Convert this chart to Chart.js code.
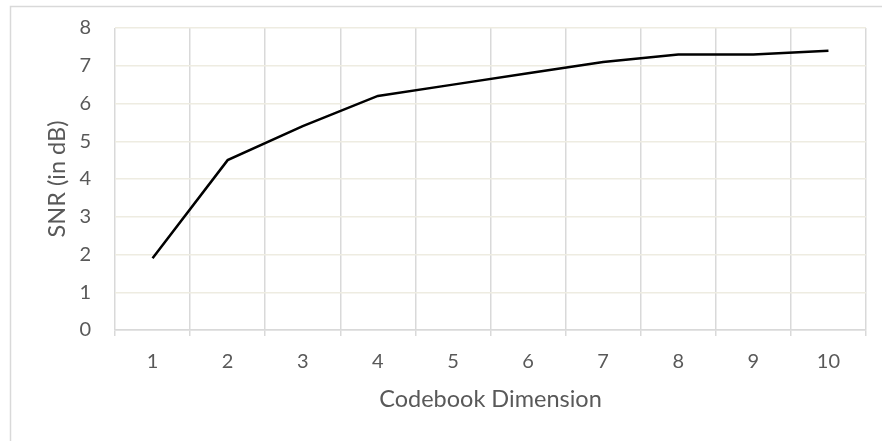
<!DOCTYPE html>
<html>
<head>
<meta charset="utf-8">
<script src="https://cdn.jsdelivr.net/npm/chart.js@4/dist/chart.umd.min.js"></script>
<style>
  html, body { margin: 0; padding: 0; background: #ffffff; }
  #wrap { width: 882px; height: 441px; position: relative; }
</style>
</head>
<body>
<div id="wrap"><canvas id="c" width="882" height="441"></canvas></div>
<script>
const categories = ['1', '2', '3', '4', '5', '6', '7', '8', '9', '10'];
const snrValues = [1.9, 4.5, 5.4, 6.2, 6.5, 6.8, 7.1, 7.3, 7.3, 7.4];
const yTicks = [0, 1, 2, 3, 4, 5, 6, 7, 8];
const xTitle = 'Codebook Dimension';
const yTitle = 'SNR (in dB)';

const FONT = 'Lato, "Open Sans", sans-serif';
const TEXT = '#595959';

const outerBorder = {
  id: 'outerBorder',
  beforeDraw(chart) {
    const ctx = chart.ctx;
    ctx.save();
    ctx.fillStyle = '#ffffff';
    ctx.fillRect(0, 0, chart.width, chart.height);
    ctx.strokeStyle = '#D9D9D9';
    ctx.lineWidth = 1.5;
    ctx.strokeRect(10.5, 6.5, chart.width + 20, chart.height + 20);
    ctx.restore();
  }
};

new Chart(document.getElementById('c'), {
  type: 'line',
  data: {
    labels: categories,
    datasets: [{
      data: snrValues,
      borderColor: '#000000',
      borderWidth: 2.5,
      pointRadius: 0,
      tension: 0,
      fill: false
    }]
  },
  options: {
    responsive: false,
    animation: false,
    devicePixelRatio: 1,
    layout: { padding: { left: 0, right: 16, top: 28, bottom: 27 } },
    plugins: { legend: { display: false }, tooltip: { enabled: false } },
    scales: {
      x: {
        offset: true,
        grid: { offset: true, color: '#D9D9D9', lineWidth: 1.5, drawTicks: true, tickLength: 6 },
        border: { display: true, color: '#D9D9D9', width: 1.5 },
        ticks: { color: TEXT, font: { family: FONT, size: 20 }, padding: 14, maxRotation: 0 },
        title: { display: true, text: xTitle, color: TEXT, font: { family: FONT, size: 23.5 }, padding: 0 },
        afterFit(scale) { scale.height = 84; scale.paddingLeft = 0; scale.paddingRight = 0; }
      },
      y: {
        min: 0, max: 8,
        afterBuildTicks(scale) { scale.ticks = yTicks.map(v => ({ value: v })); },
        grid: {
          color: (c) => c.tick && c.tick.value === 0 ? '#D9D9D9' : '#EEECE1',
          lineWidth: 1.5, drawTicks: false
        },
        border: { display: false },
        ticks: { color: TEXT, font: { family: FONT, size: 20 }, padding: 24 },
        title: { display: true, text: yTitle, color: TEXT, font: { family: FONT, size: 23.5 }, padding: { top: 43, bottom: 30 } },
        afterFit(scale) { scale.width = 115; scale.paddingTop = 0; scale.paddingBottom = 0; }
      }
    }
  },
  plugins: [outerBorder]
});
</script>
</body>
</html>
